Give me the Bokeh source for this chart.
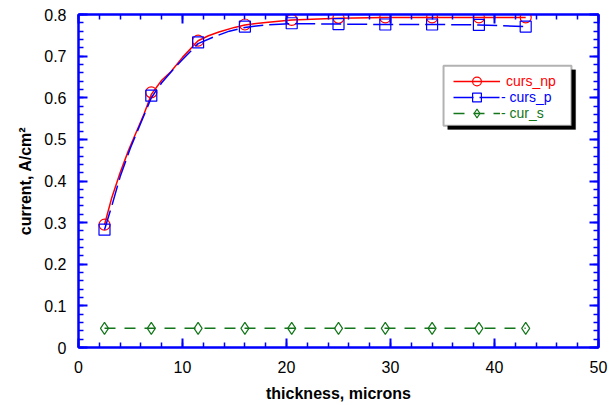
from bokeh.plotting import figure
from bokeh.models import (LinearAxis, SingleIntervalTicker, Legend, LegendItem,
                          BoxAnnotation, Range1d)
from bokeh.embed import file_html
from bokeh.resources import INLINE

# ---- data ----
thickness = [2.5, 7.0, 11.5, 16.0, 20.5, 25.0, 29.5, 34.0, 38.5, 43.0]
curs_np = [0.295, 0.613, 0.737, 0.776, 0.787, 0.792, 0.793, 0.793, 0.793, 0.793]
curs_p = [0.283, 0.605, 0.733, 0.771, 0.779, 0.777, 0.776, 0.776, 0.775, 0.771]
cur_s = [0.046, 0.046, 0.046, 0.046, 0.046, 0.046, 0.046, 0.046, 0.046, 0.046]

# smooth curves drawn in the reference
np_curve_x = [2.5, 3.2, 4.0, 4.8, 5.6, 6.3, 7.0, 8.0, 8.9, 10.0, 11.0, 11.5, 12.5,
              13.5, 15.0, 16.0, 18.0, 20.5, 25.0, 29.5, 34.0, 38.5, 43.0]
np_curve_y = [0.295, 0.36, 0.42, 0.473, 0.52, 0.561, 0.608, 0.642, 0.663, 0.697,
              0.724, 0.737, 0.749, 0.758, 0.769, 0.775, 0.781, 0.787, 0.791, 0.793,
              0.793, 0.793, 0.793]
p_curve_x = [2.5, 3.2, 4.0, 5.0, 6.0, 7.0, 8.0, 9.0, 10.0, 11.5, 13.0, 14.5, 16.0,
             18.0, 20.5, 25.0, 29.5, 34.0, 38.5, 43.0]
p_curve_y = [0.283, 0.34, 0.41, 0.48, 0.54, 0.600, 0.636, 0.665, 0.692, 0.730,
             0.746, 0.760, 0.769, 0.775, 0.778, 0.777, 0.776, 0.776, 0.775, 0.771]

RED = "#ff0000"
BLUE = "#0000ff"
GREEN = "#13761a"
FONT = "Liberation Sans"

p = figure(width=616, height=405, output_backend="svg", toolbar_location=None,
           x_range=Range1d(0, 50), y_range=Range1d(0, 0.8),
           x_axis_location=None, y_axis_location=None,
           min_border_left=78, min_border_right=18, min_border_top=14,
           min_border_bottom=58)
p.grid.visible = False
p.outline_line_color = BLUE
p.outline_line_width = 2
p.background_fill_color = "white"
p.border_fill_color = "white"


def style_axis(ax, show_labels):
    ax.axis_line_color = BLUE
    ax.axis_line_width = 2
    ax.major_tick_line_color = BLUE
    ax.minor_tick_line_color = BLUE
    ax.major_tick_line_width = 2
    ax.minor_tick_line_width = 1.5
    ax.major_tick_out = 0
    ax.minor_tick_out = 0
    ax.major_tick_in = 9
    ax.minor_tick_in = 5
    if show_labels:
        ax.major_label_text_font = FONT
        ax.major_label_text_font_size = "16px"
        ax.major_label_text_color = "black"
        ax.axis_label_text_font = FONT
        ax.axis_label_text_font_style = "bold"
        ax.axis_label_text_font_size = "16px"
        ax.axis_label_text_color = "black"
    else:
        ax.major_label_text_font_size = "1px"
        ax.major_label_text_alpha = 0
        ax.major_label_standoff = 0


xt = SingleIntervalTicker(interval=10, num_minor_ticks=5)
yt = SingleIntervalTicker(interval=0.1, num_minor_ticks=5)

xb = LinearAxis(ticker=xt, axis_label="thickness, microns")
style_axis(xb, True)
xb.major_label_standoff = 13
xb.axis_label_standoff = 9
xa = LinearAxis(ticker=SingleIntervalTicker(interval=10, num_minor_ticks=5))
style_axis(xa, False)
yl = LinearAxis(ticker=yt, axis_label="current, A/cm\u00b2")
style_axis(yl, True)
yl.major_label_standoff = 12
yl.axis_label_standoff = 7
yl.major_label_overrides = {0: "0"}
yr = LinearAxis(ticker=SingleIntervalTicker(interval=0.1, num_minor_ticks=5))
style_axis(yr, False)
p.add_layout(xb, "below")
p.add_layout(xa, "above")
p.add_layout(yl, "left")
p.add_layout(yr, "right")

# ---- series ----
r_np_line = p.line(np_curve_x, np_curve_y, line_color=RED, line_width=1.5)
r_np_mk = p.scatter(thickness, curs_np, marker="circle", size=11, fill_color=None,
                    line_color=RED, line_width=1.2)
r_p_line = p.line(p_curve_x, p_curve_y, line_color=BLUE, line_width=1.5,
                  line_dash="20 6")
r_p_mk = p.scatter(thickness, curs_p, marker="square", size=11, fill_color=None,
                   line_color=BLUE, line_width=1.2)
r_s_line = p.line(thickness, cur_s, line_color=GREEN, line_width=1.5,
                  line_dash="11 9")
r_s_mk = p.scatter(thickness, cur_s, marker="diamond", size=12, fill_color=None,
                   line_color=GREEN, line_width=1.2)

# ---- legend frame with shadow ----
p.add_layout(BoxAnnotation(left=35.5, right=47.8, top=0.667, bottom=0.524,
                           fill_color="black", fill_alpha=1, line_color="black",
                           level="overlay"))
p.add_layout(BoxAnnotation(left=35.1, right=47.4, top=0.677, bottom=0.533,
                           fill_color="white", fill_alpha=1, line_color="black",
                           line_width=2, level="overlay"))

entries = [("curs_np", [r_np_line, r_np_mk], RED, 266.5, 6),
           ("- curs_p", [r_p_line, r_p_mk], BLUE, 250.5, 1),
           ("- cur_s", [r_s_line, r_s_mk], GREEN, 234.5, 1)]
for label, rends, col, yc, standoff in entries:
    lg = Legend(items=[LegendItem(label=label, renderers=rends)],
                location=(375, yc - 11), padding=0, margin=0, spacing=0,
                glyph_width=47, glyph_height=22, label_height=22,
                label_standoff=standoff, border_line_alpha=0,
                background_fill_alpha=0, label_text_color=col,
                label_text_font=FONT, label_text_font_size="14px",
                label_text_baseline="middle")
    p.add_layout(lg, "center")

open("out.html", "w").write(file_html(p, INLINE))
